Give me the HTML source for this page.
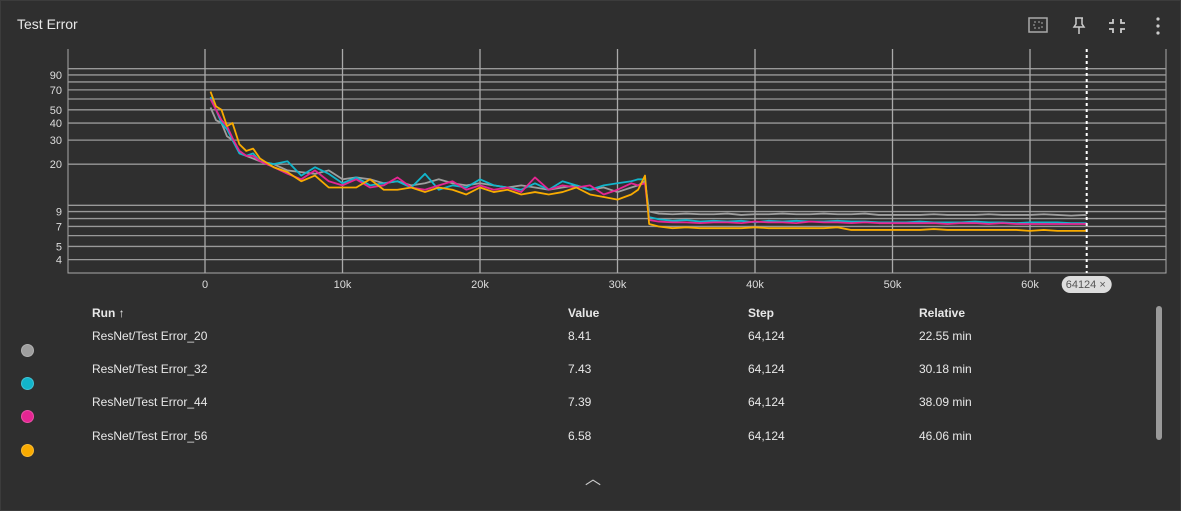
<!DOCTYPE html>
<html><head><meta charset="utf-8"><style>
body{margin:0;width:1181px;height:511px;background:#2f2f2f;font-family:"Liberation Sans",sans-serif;color:#e6e6e6;overflow:hidden;position:relative}
.card{position:absolute;left:0;top:0;width:1179px;height:509px;border:1px solid #3c3c3c;background:#2f2f2f}
.t{position:absolute;font-size:12px;color:#e8e8e8}
.h{font-weight:bold}
.dot{position:absolute;width:11px;height:11px;border-radius:50%;border:1px solid #fff3}
</style></head><body>
<div class="card">
<div class="t" style="left:16px;top:15px;font-size:14px">Test Error</div>
<svg style="position:absolute;left:1025px;top:13px" width="150" height="24">
<g><rect x="3" y="4" width="18" height="14" fill="none" stroke="#aaa" stroke-width="1.5"/><rect x="8" y="8" width="8" height="6" fill="none" stroke="#aaa" stroke-dasharray="2,2"/></g>
<g stroke="#ccc" stroke-width="1.5" fill="none"><path d="M49 4h8M50 4v6l-2 3h10l-2-3V4M53 13v7"/></g>
<g stroke="#ccc" stroke-width="1.8" fill="none"><path d="M87 5v4h-4M95 5v4h4M87 19v-4h-4M95 19v-4h4"/></g>
<g fill="#ccc"><circle cx="132" cy="5" r="1.6"/><circle cx="132" cy="12" r="1.6"/><circle cx="132" cy="19" r="1.6"/></g>
</svg>
<svg id="plot" style="position:absolute;left:0;top:0" width="1181" height="300"></svg>
<div class="t h" style="left:91px;top:305px">Run ↑</div>
<div class="t h" style="left:567px;top:305px">Value</div>
<div class="t h" style="left:747px;top:305px">Step</div>
<div class="t h" style="left:918px;top:305px">Relative</div>
<div id="rows"></div>
<div style="position:absolute;left:1155px;top:305px;width:6px;height:134px;background:#9a9a9a;border-radius:3px"></div>
<div class="t" style="left:584px;top:464px;font-size:16px;color:#ccc">︿</div>
</div>
<script>
const steps=[400,800,1200,1600,2000,2500,3000,3500,4000,5000,6000,7000,8000,9000,10000,11000,12000,13000,14000,15000,16000,17000,18000,19000,20000,21000,22000,23000,24000,25000,26000,27000,28000,29000,30000,31000,31500,32000,32300,33000,34000,35000,36000,37000,38000,39000,40000,41000,42000,43000,44000,45000,46000,47000,48000,49000,50000,51000,52000,53000,54000,55000,56000,57000,58000,59000,60000,61000,62000,63000,64000,64124];
const s20=[52,42,40,32,30,25,23,22,21,20,18,17.5,17,18,15.5,16,15.5,14.5,15,14,14.5,15.5,14.5,14,14.5,14,13.5,14,13.5,13,13.5,14,13,13.5,12.5,13.5,14,15,9,8.7,8.6,8.7,8.6,8.6,8.7,8.5,8.6,8.6,8.7,8.6,8.6,8.7,8.6,8.6,8.7,8.5,8.5,8.5,8.5,8.6,8.5,8.5,8.5,8.6,8.5,8.5,8.5,8.6,8.5,8.4,8.5,8.41];
const s32=[62,50,40,36,30,24,23,24,21,20,21,16.5,19,17,14.5,16,14,14.5,15,13.5,17,13,14,13.5,15.5,14,13.5,13,14.5,13,15,14,13,14,14.5,15,15.5,15.5,8.2,7.9,7.7,7.8,7.6,7.7,7.6,7.7,7.5,7.7,7.6,7.7,7.6,7.6,7.7,7.6,7.6,7.5,7.5,7.5,7.6,7.5,7.5,7.5,7.6,7.5,7.5,7.4,7.5,7.5,7.5,7.4,7.4,7.43];
const s44=[60,50,42,38,31,25,23,23,21,19,17,15.5,18,15,14,15.5,13.5,14,16,13.5,13,14,15,13,14,13,13.5,12.5,16,13,14,13.5,14,12,13,14.5,14,14.5,7.8,7.6,7.5,7.5,7.4,7.5,7.5,7.4,7.6,7.5,7.5,7.4,7.6,7.5,7.5,7.4,7.5,7.4,7.4,7.4,7.4,7.4,7.3,7.4,7.4,7.3,7.4,7.3,7.3,7.3,7.3,7.3,7.3,7.39];
const s56=[68,53,50,38,40,28,25,26,22,19,17.5,15,16.5,13.5,13.5,13.5,15.5,13,13,13.5,12.5,13.5,13,12,13.5,12.5,13,12,12.5,12,12.5,13.5,12,11.5,11,12,13,16.5,7.3,7.0,6.8,6.9,6.8,6.8,6.8,6.8,6.9,6.8,6.8,6.8,6.8,6.8,6.9,6.6,6.6,6.6,6.6,6.6,6.6,6.7,6.6,6.6,6.6,6.6,6.6,6.6,6.5,6.6,6.5,6.5,6.5,6.58];
const series=[s20,s32,s44,s56];
const colors=["#9e9e9e","#12b5cb","#e52592","#f9ab00"];
const runs=["ResNet/Test Error_20","ResNet/Test Error_32","ResNet/Test Error_44","ResNet/Test Error_56"];
const values=["8.41","7.43","7.39","6.58"];
const relTimes=["22.55 min","30.18 min","38.09 min","46.06 min"];
const yGrid=[100,90,80,70,60,50,40,30,20,10,9,8,7,6,5,4];
const yLabels=[90,70,50,40,30,20,9,7,5,4];
const xTicks=[0,10000,20000,30000,40000,50000,60000];
const X=s=>204+s*0.01375;
const Y=v=>204.3-136.6*Math.log10(v/10);
const NS="http://www.w3.org/2000/svg",svg=document.getElementById('plot');
function mk(t,a){const e=document.createElementNS(NS,t);for(const k in a)e.setAttribute(k,a[k]);svg.appendChild(e);return e;}
mk('path',{d:'M67 48V272H1165V48',fill:'none',stroke:'#aaa'});
yGrid.forEach(v=>{const l=mk('line',{x1:67,x2:1165,y1:Y(v),y2:Y(v),stroke:'#999','stroke-width':1.3});

});
yLabels.forEach(v=>{const t=mk('text',{x:61,y:Y(v)+4,'text-anchor':'end','font-size':11,fill:'#ddd'});t.textContent=v;

});
xTicks.forEach(v=>{const l=mk('line',{x1:X(v),x2:X(v),y1:48,y2:272,stroke:'#aaa','stroke-width':1.3});


const t=mk('text',{x:X(v),y:287,'text-anchor':'middle','font-size':11,fill:'#ddd'});t.textContent=v?v/1000+'k':'0';

});
series.forEach((s,i)=>{const p=mk('polyline',{points:s.map((v,j)=>X(steps[j])+','+Y(v)).join(' '),fill:'none',stroke:colors[i],'stroke-width':1.8,'stroke-linejoin':'round'});

});
const cx=X(64124);
const cl=mk('line',{x1:cx,x2:cx,y1:48,y2:272,stroke:'#fff','stroke-width':2,'stroke-dasharray':'3,3'});


const b=mk('rect',{x:cx-25,y:275,width:50,height:17,rx:8.5,fill:'#ddd'});


const bt=mk('text',{x:cx-21,y:287,'font-size':11,fill:'#555'});bt.textContent='64124 ×';


const rows=document.getElementById('rows');
runs.forEach((r,i)=>{const y=[335,368,401,435][i];
const d=document.createElement('div');d.className='dot';d.style.cssText=`left:20px;top:${y+8}px;background:${colors[i]}`;

rows.appendChild(d);
[[91,r],[567,values[i]],[747,'64,124'],[918,relTimes[i]]].forEach(([x,tx])=>{const e=document.createElement('div');e.className='t';e.style.cssText=`left:${x}px;top:${y-7}px`;e.textContent=tx;

rows.appendChild(e);});});
</script>
</body></html>
